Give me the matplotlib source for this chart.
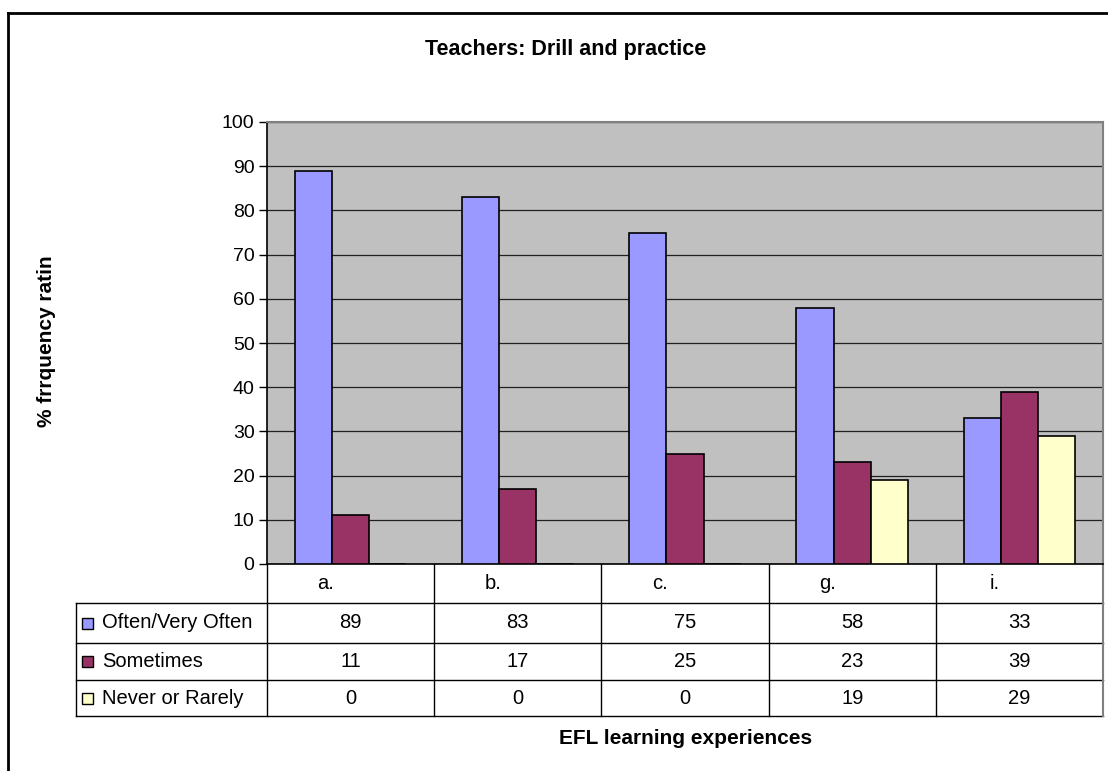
import matplotlib
matplotlib.use("Agg")
import matplotlib.pyplot as plt
import matplotlib.transforms as mtransforms
from matplotlib.patches import Rectangle
from matplotlib.lines import Line2D
import numpy as np

# ---- data ----
categories = ["a.", "b.", "c.", "g.", "i."]
series_names = ["Often/Very Often", "Sometimes", "Never or Rarely"]
often = [89, 83, 75, 58, 33]
sometimes = [11, 17, 25, 23, 39]
never = [0, 0, 0, 19, 29]
series_values = [often, sometimes, never]
series_colors = ["#9999FF", "#993366", "#FFFFCC"]
y_ticks = [0, 10, 20, 30, 40, 50, 60, 70, 80, 90, 100]

title = "Teachers: Drill and practice"
x_label = "EFL learning experiences"
y_label = "% frrquency ratin"

plt.rcParams["font.family"] = ["Liberation Sans", "DejaVu Sans"]

W, H = 1108, 771
fig = plt.figure(figsize=(W / 100, H / 100), dpi=100)

# plot area in pixel terms (left, top, right, bottom)
px_l, px_t, px_r, px_b = 267, 122, 1103, 564
ax = fig.add_axes([px_l / W, 1 - px_b / H, (px_r - px_l) / W, (px_b - px_t) / H])
ax.set_facecolor("#C0C0C0")

n = len(categories)
x = np.arange(n)
bw = 2 / 9
for k, (vals, col) in enumerate(zip(series_values, series_colors)):
    ax.bar(x + (k - 1) * bw, vals, width=bw, color=col, edgecolor="black",
           linewidth=1.2, zorder=3)

ax.set_xlim(-0.5, n - 0.5)
ax.set_ylim(0, 100)
ax.set_yticks(y_ticks)
ax.set_yticklabels([str(v) for v in y_ticks], fontsize=14)
ax.set_xticks([])
ax.yaxis.grid(True, color="#202020", linewidth=0.9, zorder=1)
ax.set_axisbelow(True)
ax.tick_params(axis="y", direction="out", length=6, width=1, color="black", pad=3)
for side in ["top", "right"]:
    ax.spines[side].set_color("#808080")
    ax.spines[side].set_linewidth(1.5)
ax.spines["left"].set_color("black")
ax.spines["bottom"].set_color("black")
ax.spines["left"].set_linewidth(1.2)
ax.spines["bottom"].set_linewidth(1.2)

# ---- data table under the plot ----
trans = mtransforms.blended_transform_factory(ax.transData, ax.transAxes)
plot_h = px_b - px_t
cat_w = (px_r - px_l) / n


def yfrac(py):
    return (px_b - py) / plot_h


row_edges_px = [564, 603, 643, 680, 716]
row_edges = [yfrac(p) for p in row_edges_px]
x_left_tab = -0.5 - (px_l - 76) / cat_w

line_kw = dict(transform=trans, color="black", linewidth=1.0, clip_on=False)
# horizontal rules
for j, yy in enumerate(row_edges[1:], start=1):
    ax.add_line(Line2D([x_left_tab, n - 0.5], [yy, yy], **line_kw))
# vertical rules between categories
for b in range(n):
    ax.add_line(Line2D([b - 0.5, b - 0.5], [row_edges[0], row_edges[-1]], **line_kw))
ax.add_line(Line2D([n - 0.5, n - 0.5], [row_edges[0], row_edges[-1]],
                   transform=trans, color="#808080", linewidth=1.5, clip_on=False))
ax.add_line(Line2D([x_left_tab, x_left_tab], [row_edges[1], row_edges[-1]], **line_kw))

# category labels row
yc_head = (row_edges[0] + row_edges[1]) / 2
for i, c in enumerate(categories):
    ax.text(i - 0.15, yc_head, c, transform=trans, ha="center", va="center",
            fontsize=14.5)

# series rows
key_w = 11 / cat_w
for k, (name, vals, col) in enumerate(zip(series_names, series_values, series_colors)):
    yc = (row_edges[k + 1] + row_edges[k + 2]) / 2
    kx = x_left_tab + 6 / cat_w
    kh = 11 / plot_h
    ax.add_patch(Rectangle((kx, yc - kh / 2), key_w, kh, transform=trans,
                           facecolor=col, edgecolor="black", linewidth=1.0,
                           clip_on=False))
    ax.text(x_left_tab + 26 / cat_w, yc, name, transform=trans, ha="left",
            va="center", fontsize=14.5)
    for i, v in enumerate(vals):
        ax.text(i, yc, str(v), transform=trans, ha="center", va="center",
                fontsize=14.5)

# ---- titles ----
fig.text(566 / W, 1 - 49 / H, title, ha="center", va="center", fontsize=15.5,
         fontweight="bold")
fig.text(686 / W, 1 - 738 / H, x_label, ha="center", va="center", fontsize=15,
         fontweight="bold")
fig.text(47 / W, 1 - 341 / H, y_label, ha="center", va="center", fontsize=15,
         fontweight="bold", rotation=90)

# ---- outer chart frame (top and left edges) ----
fig.add_artist(Line2D([8 / W, 1.0], [1 - 13 / H, 1 - 13 / H],
                      transform=fig.transFigure, color="black", linewidth=2))
fig.add_artist(Line2D([8 / W, 8 / W], [0.0, 1 - 13 / H],
                      transform=fig.transFigure, color="black", linewidth=2))

fig.savefig("out.png", dpi=100)
